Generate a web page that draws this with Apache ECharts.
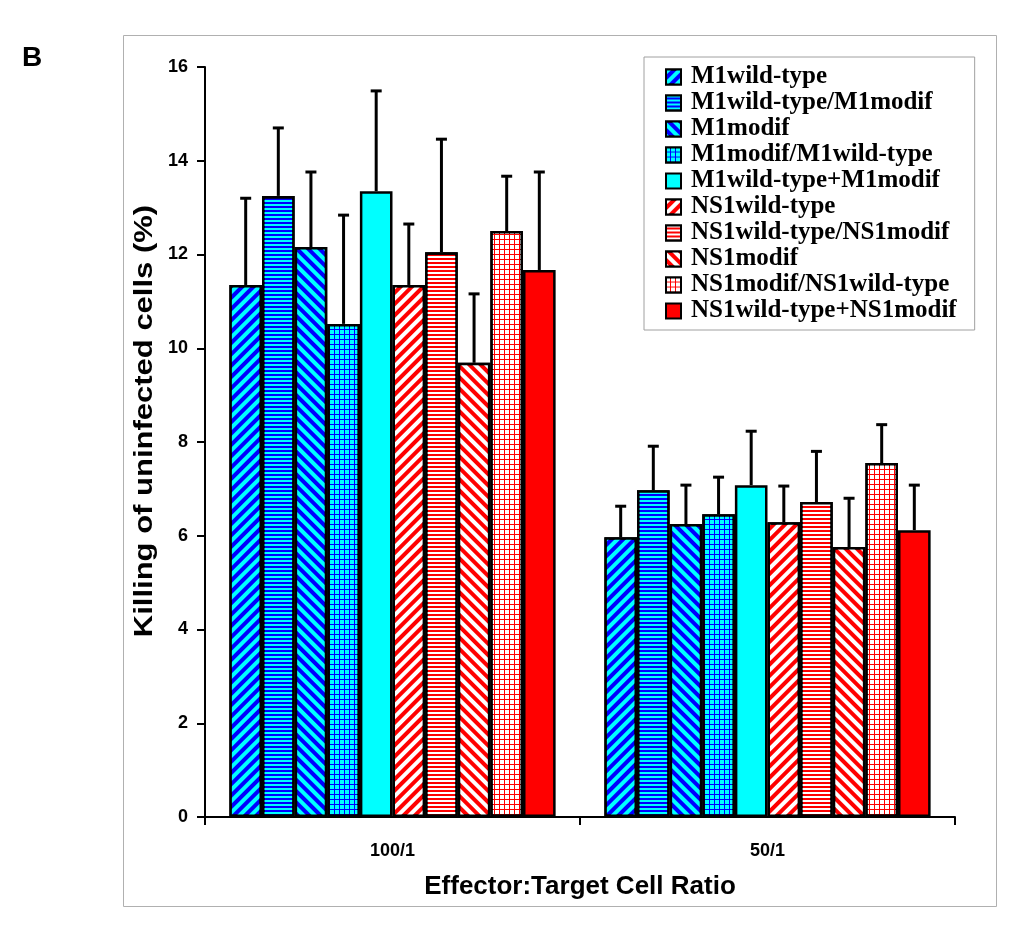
<!DOCTYPE html>
<html>
<head>
<meta charset="utf-8">
<script src="https://cdn.jsdelivr.net/npm/echarts@6/dist/echarts.min.js"></script>
<style>html,body{margin:0;padding:0;background:#fff;}#c{width:1026px;height:939px;}</style>
</head>
<body>
<div id="c"></div>
<script>
const categories = ['100/1', '50/1'];
const seriesNames = ['M1wild-type', 'M1wild-type/M1modif', 'M1modif', 'M1modif/M1wild-type', 'M1wild-type+M1modif',
  'NS1wild-type', 'NS1wild-type/NS1modif', 'NS1modif', 'NS1modif/NS1wild-type', 'NS1wild-type+NS1modif'];
// mean values per series at 100/1 and 50/1
const means100 = [11.35, 13.25, 12.16, 10.52, 13.35, 11.35, 12.05, 9.69, 12.5, 11.67];
const means50 = [5.97, 6.97, 6.25, 6.46, 7.08, 6.29, 6.72, 5.76, 7.55, 6.12];
// upper error bar sizes
const err100 = [1.85, 1.45, 1.6, 2.32, 2.14, 1.3, 2.41, 1.47, 1.17, 2.09];
const err50 = [0.66, 0.94, 0.83, 0.79, 1.15, 0.77, 1.08, 1.04, 0.82, 0.96];
const yTicks = { min: 0, max: 16, interval: 2 };
const yTitle = 'Killing of uninfected cells (%)';
const xTitle = 'Effector:Target Cell Ratio';

const BLUE = '#0000ff', CYAN = '#00ffff', RED = '#ff0000', WHITE = '#ffffff';
function stripes(bg, fg, rot, w) {
  return { color: bg, decal: { symbol: 'rect', symbolSize: 1, color: fg, dashArrayX: [1, 0], dashArrayY: [w, w], rotation: rot } };
}
function grid(bg, fg) {
  return { color: bg, decal: { symbol: 'rect', symbolSize: 1, color: fg, dashArrayX: [4, 1], dashArrayY: [4, 1], rotation: 0 } };
}
const styles = [
  stripes(BLUE, CYAN, -Math.PI / 4, 4),
  stripes(BLUE, CYAN, 0, 2),
  stripes(BLUE, CYAN, Math.PI / 4, 4),
  grid(BLUE, CYAN),
  { color: CYAN },
  stripes(RED, WHITE, -Math.PI / 4, 4),
  stripes(RED, WHITE, 0, 2),
  stripes(RED, WHITE, Math.PI / 4, 4),
  grid(RED, WHITE),
  { color: RED }
];
const CAT_GAP = 0.13;

const series = seriesNames.map((name, i) => ({
  name: name,
  type: 'bar',
  data: [means100[i], means50[i]],
  barGap: '0%',
  barCategoryGap: (CAT_GAP * 100) + '%',
  itemStyle: Object.assign({ borderColor: '#000', borderWidth: 2.5 }, styles[i]),
  emphasis: { disabled: true },
  z: 2
}));

const errData = [];
seriesNames.forEach((n, i) => {
  errData.push([0, i, means100[i], err100[i]]);
  errData.push([1, i, means50[i], err50[i]]);
});
series.push({
  type: 'custom',
  name: 'err',
  data: errData,
  encode: { x: 0, y: 2 },
  z: 3,
  silent: true,
  renderItem: function (params, api) {
    const cat = api.value(0), s = api.value(1), m = api.value(2), e = api.value(3);
    const band = api.size([1, 0])[0];
    const gap = band * CAT_GAP;
    const bw = (band - gap) / seriesNames.length;
    const c = api.coord([cat, m]);
    const x = c[0] - band / 2 + gap / 2 + bw * (s + 0.5);
    const yTop = api.coord([cat, m + e])[1];
    const style = { stroke: '#000', lineWidth: 3 };
    return {
      type: 'group',
      children: [
        { type: 'line', shape: { x1: x, y1: c[1], x2: x, y2: yTop }, style: style },
        { type: 'line', shape: { x1: x - 5.5, y1: yTop, x2: x + 5.5, y2: yTop }, style: style }
      ]
    };
  }
});

const chart = echarts.init(document.getElementById('c'), null, { renderer: 'canvas' });
chart.setOption({
  animation: false,
  backgroundColor: '#fff',
  textStyle: { fontFamily: 'Liberation Sans' },
  graphic: [
    { type: 'rect', shape: { x: 123.5, y: 35.5, width: 873, height: 871 }, style: { fill: 'none', stroke: '#b0b0b0', lineWidth: 1 }, z: -10 },
    { type: 'text', left: 22, top: 44, style: { text: 'B', font: 'bold 28px "Liberation Sans"', fill: '#000' } },
    { type: 'text', x: 145, y: 421, rotation: Math.PI / 2, scaleX: 1.24, style: { text: yTitle, font: 'bold 25px "Liberation Sans"', fill: '#000', align: 'center', verticalAlign: 'middle' } }
  ],
  legend: {
    data: seriesNames,
    orient: 'vertical',
    left: 644,
    top: 57,
    padding: [7, 18, 6, 21],
    itemWidth: 15,
    itemHeight: 15,
    itemGap: 0,
    borderColor: '#a0a0a0',
    borderWidth: 1,
    icon: 'rect',
    selectedMode: false,
    itemStyle: { borderColor: '#000', borderWidth: 2 },
    textStyle: { fontFamily: 'Liberation Serif', fontWeight: 'bold', fontSize: 25, lineHeight: 26, color: '#000', padding: [0, 0, 0, 5] }
  },
  grid: { left: 205, right: 71, top: 67, bottom: 122, containLabel: false },
  xAxis: {
    type: 'category',
    data: categories,
    name: xTitle,
    nameLocation: 'middle',
    nameGap: 57,
    nameTextStyle: { fontFamily: 'Liberation Sans', fontWeight: 'bold', fontSize: 26, color: '#000' },
    axisLine: { lineStyle: { color: '#000', width: 2 } },
    axisTick: { show: true, length: 8, lineStyle: { color: '#000', width: 2 } },
    axisLabel: { margin: 25, fontFamily: 'Liberation Sans', fontWeight: 'bold', fontSize: 18, color: '#000' },
    splitLine: { show: false }
  },
  yAxis: {
    type: 'value',
    min: yTicks.min,
    max: yTicks.max,
    interval: yTicks.interval,
    axisLine: { show: true, lineStyle: { color: '#000', width: 2 } },
    axisTick: { show: true, length: 8, lineStyle: { color: '#000', width: 2 } },
    axisLabel: { margin: 17, fontFamily: 'Liberation Sans', fontWeight: 'bold', fontSize: 18, color: '#000' },
    splitLine: { show: false }
  },
  series: series
});
</script>
</body>
</html>
